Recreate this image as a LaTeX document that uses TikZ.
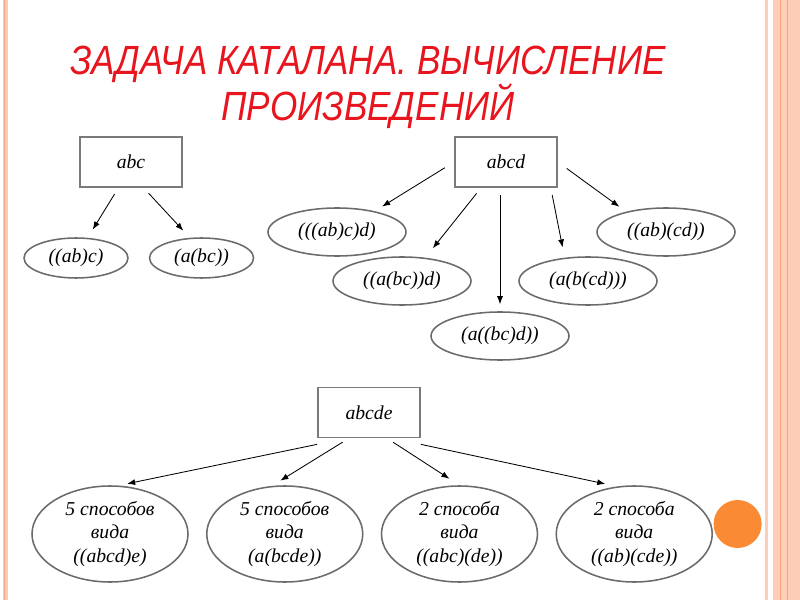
\documentclass[tikz,border=0pt]{standalone}
\usepackage{fontspec}
\setmainfont{Liberation Serif}
\newfontfamily\titulofont[FakeStretch=0.86]{Liberation Sans}
\usetikzlibrary{arrows.meta,positioning,calc,shapes.geometric}
\definecolor{RojoTitulo}{HTML}{E8141E}
\definecolor{GrisCaja}{HTML}{7A7A7A}
\definecolor{GrisBorde}{HTML}{6B6B6B}
\definecolor{SalmonMarco}{HTML}{FDCDB8}
\definecolor{SalmonOscuro}{HTML}{F4A887}
\definecolor{NaranjaPunto}{HTML}{FB8A35}

\begin{document}
\begin{tikzpicture}[
    node distance=4.3mm and 4.3mm,
    texto/.style={font=\fontsize{14}{17}\selectfont\itshape},
    producto/.style={texto,draw=GrisCaja,line width=1.2pt,fill=white,minimum width=2.55cm,minimum height=1.25cm,inner sep=0pt},
    ovalo/.style={texto,ellipse,draw=GrisBorde,line width=1.1pt,minimum width=3.45cm,minimum height=1.2cm,inner sep=0pt,align=center},
    ovalochico/.style={ovalo,minimum width=2.6cm,minimum height=1cm},
    ovalogrande/.style={ovalo,minimum width=3.9cm,minimum height=2.4cm},
    titulo/.style={font=\titulofont\itshape\fontsize{29}{28.5}\selectfont,text=RojoTitulo,align=center},
    flecha/.style={-{Latex[length=2mm,width=1.5mm]},line width=0.6pt,shorten <=1.8mm,shorten >=2.4mm}]
    \useasboundingbox[fill=white] (0,0) rectangle (20,15);
    % marco de la diapositiva
    \fill[SalmonMarco] (0.075,0) rectangle (0.2,15);
    \draw[SalmonOscuro,line width=0.4pt] (0.1,0) -- (0.1,15);
    \fill[SalmonMarco] (19.125,0) rectangle (19.2,15);
    \fill[SalmonMarco] (19.325,0) rectangle (20,15);
    \draw[SalmonOscuro,line width=0.7pt] (19.5,0) -- (19.5,15);
    \draw[SalmonOscuro,line width=0.7pt] (19.675,0) -- (19.675,15);
    \fill[NaranjaPunto] (18.44,1.9) circle (0.6);
    \node[titulo] (titulo) at (9.2,12.81) {ЗАДАЧА КАТАЛАНА. ВЫЧИСЛЕНИЕ\\ПРОИЗВЕДЕНИЙ};
    % tres factores
    \node[producto] (abc) at (3.275,10.95) {abc};
    \node[ovalochico] (abc1) at (1.9,8.55) {((ab)c)};
    \node[ovalochico,right=5mm of abc1] (abc2) {(a(bc))};
    \draw[flecha] (abc.-116) -- (abc1.60);
    \draw[flecha] (abc.-64) -- (abc2.120);
    % cuatro factores
    \node[producto] (abcd) at (12.65,10.95) {abcd};
    \node[ovalo] (abcd1) at (8.425,9.2) {(((ab)c)d)};
    \node[ovalo] (abcd2) at (10.05,7.975) {((a(bc))d)};
    \node[ovalo] (abcd3) at (12.5,6.6) {(a((bc)d))};
    \node[ovalo] (abcd4) at (14.7,7.975) {(a(b(cd)))};
    \node[ovalo] (abcd5) at (16.65,9.2) {((ab)(cd))};
    \draw[flecha,shorten <=2.75mm,shorten >=2.2mm] (abcd.west) -- (abcd1.29);
    \draw[flecha,shorten >=3mm] (abcd.-134) -- (abcd2.45);
    \draw[flecha,shorten >=1.75mm] (abcd.south -| abcd3.north) -- (abcd3.north);
    \draw[flecha,shorten >=2.6mm] (abcd.-30) -- (abcd4.135);
    \draw[flecha,shorten <=2.75mm,shorten >=2.1mm] (abcd.east) -- (abcd5.153);
    % cinco factores
    \node[producto] (abcde) at (9.225,4.6875) {abcde};
    \node[ovalogrande] (abcde1) at (2.75,1.65) {5 способов\\вида\\((abcd)e)};
    \node[ovalogrande,right=of abcde1] (abcde2) {5 способов\\вида\\(a(bcde))};
    \node[ovalogrande,right=of abcde2] (abcde3) {2 способа\\вида\\((abc)(de))};
    \node[ovalogrande,right=of abcde3] (abcde4) {2 способа\\вида\\((ab)(cde))};
    \draw[flecha,shorten <=0mm,shorten >=2.2mm] ([yshift=-1.5mm]abcde.south west) -- (abcde1.80);
    \draw[flecha,shorten >=2.5mm] (abcde.-128) -- (abcde2.105);
    \draw[flecha,shorten >=3mm] (abcde.-55) -- (abcde3.north);
    \draw[flecha,shorten <=0mm,shorten >=3mm] ([yshift=-1.5mm]abcde.south east) -- (abcde4.110);
\end{tikzpicture}
\end{document}
